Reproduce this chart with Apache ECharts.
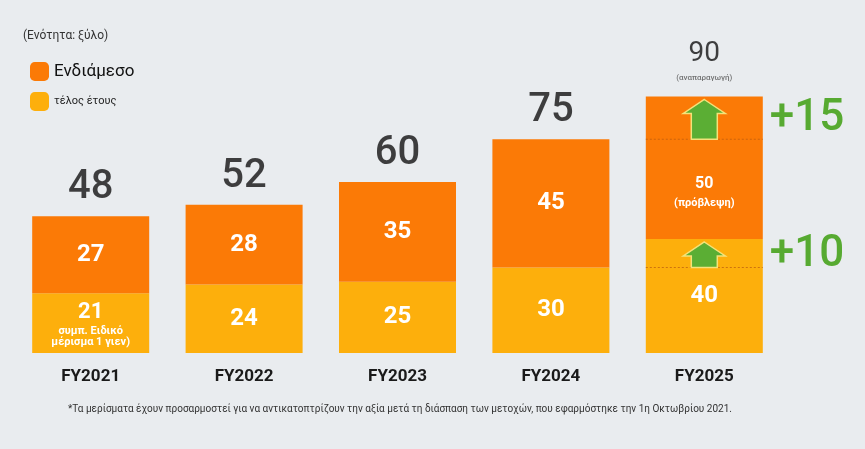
<!DOCTYPE html>
<html>
<head>
<meta charset="utf-8">
<script src="https://cdn.jsdelivr.net/npm/echarts@6/dist/echarts.min.js"></script>
<style>
  html, body { margin: 0; padding: 0; background: #E9ECEF; }
  #chart { width: 865px; height: 449px; }
</style>
</head>
<body>
<div id="chart"></div>
<script>
// 数据
const categories = ['FY2021', 'FY2022', 'FY2023', 'FY2024', 'FY2025'];
const yearEnd = [21, 24, 25, 30, 40];      // τέλος έτους
const interim = [27, 28, 35, 45, 50];      // Ενδιάμεσο
const totals = [48, 52, 60, 75, 90];
// αύξηση FY2025
const growthFrom = [30, 75];
const growthTo = [40, 90];
const growthLabels = ['+10', '+15'];

const ORANGE = '#FB7A06';
const YELLOW = '#FDAF0C';
const GREEN = '#57AA31';
const BAR_W = 117;

const chart = echarts.init(document.getElementById('chart'));

const option = {
    backgroundColor: '#E9ECEF',
    textStyle: { fontFamily: 'Roboto' },
    title: [
        {
            text: '(Ενότητα: ξύλο)',
            left: 18, top: 25,
            textStyle: { fontSize: 12, fontWeight: 'normal', color: '#333' }
        },
        {
            text: '*Τα μερίσματα έχουν προσαρμοστεί για να αντικατοπτρίζουν την αξία μετά τη διάσπαση των μετοχών, που εφαρμόστηκε την 1η Οκτωβρίου 2021.',
            left: 63, top: 399,
            textStyle: { fontSize: 10, fontWeight: 'normal', color: '#333' }
        }
    ],
    legend: [
        {
            data: ['Ενδιάμεσο'],
            left: 25, top: 57,
            itemWidth: 19, itemHeight: 19, itemGap: 4,
            textStyle: { fontSize: 17, color: '#111' }
        },
        {
            data: ['τέλος έτους'],
            left: 25, top: 87,
            itemWidth: 19, itemHeight: 19,
            textStyle: { fontSize: 11, color: '#222' }
        }
    ],
    grid: { left: 14, right: 84, top: 68, bottom: 96 },
    xAxis: {
        type: 'category',
        data: categories,
        axisLine: { show: false },
        axisTick: { show: false },
        axisLabel: { margin: 15, fontSize: 17, fontWeight: 'bold', color: '#1a1a1a' }
    },
    yAxis: {
        type: 'value', min: 0, max: 100, show: false,
        splitLine: { show: false }
    },
    series: [
        {
            name: 'τέλος έτους',
            type: 'bar',
            stack: 'div',
            barWidth: BAR_W,
            itemStyle: { color: YELLOW },
            label: {
                show: true, position: 'inside',
                color: '#fff', fontSize: 24, fontWeight: 'bold'
            },
            data: yearEnd.map((v, i) => i === 0 ? {
                value: v,
                label: {
                    formatter: '{a|{c}}\n{b|συμπ. Ειδικό}\n{b|μέρισμα 1 γιεν)}',
                    rich: {
                        a: { fontSize: 22, fontWeight: 'bold', color: '#fff', lineHeight: 28 },
                        b: { fontSize: 11, fontWeight: 'bold', color: '#fff', lineHeight: 11 }
                    }
                }
            } : v)
        },
        {
            name: 'Ενδιάμεσο',
            type: 'bar',
            stack: 'div',
            barWidth: BAR_W,
            itemStyle: { color: ORANGE },
            label: {
                show: true, position: 'inside',
                color: '#fff', fontSize: 24, fontWeight: 'bold'
            },
            data: interim.map((v, i) => i === 4 ? {
                value: v,
                label: {
                    offset: [0, 24],
                    formatter: '{a|{c}}\n{b|(πρόβλεψη)}',
                    rich: {
                        a: { fontSize: 16, fontWeight: 'bold', color: '#fff', lineHeight: 22 },
                        b: { fontSize: 11, fontWeight: 'bold', color: '#fff', lineHeight: 16 }
                    }
                }
            } : v)
        },
        {
            name: 'total',
            type: 'scatter',
            symbolSize: 0,
            silent: true,
            label: {
                show: true, position: 'top', distance: 8,
                fontSize: 40, fontWeight: 500, color: '#111'
            },
            data: totals.map((v, i) => i === 4 ? {
                value: v,
                label: {
                    distance: 12,
                    formatter: '{a|{c}}\n{b|(αναπαραγωγή)}',
                    rich: {
                        a: { fontSize: 28, fontWeight: 'normal', color: '#111', lineHeight: 34 },
                        b: { fontSize: 8, color: '#555', lineHeight: 14 }
                    }
                }
            } : v)
        },
        {
            name: 'growth',
            type: 'custom',
            silent: true,
            z: 10,
            data: growthFrom.map((v, i) => [4, v, growthTo[i]]),
            renderItem: (params, api) => {
                const lo = api.coord([api.value(0), api.value(1)]);
                const hi = api.coord([api.value(0), api.value(2)]);
                const cx = lo[0];
                const half = BAR_W / 2;
                const top = hi[1] + 3;
                const bot = lo[1];
                const headH = 14;
                return {
                    type: 'group',
                    children: [
                        {
                            type: 'line',
                            z2: 1,
                            shape: { x1: cx - half, y1: bot, x2: cx + half, y2: bot },
                            style: { stroke: '#B85A10', lineWidth: 1, lineDash: [2, 2], opacity: 0.7 }
                        },
                        {
                            type: 'polygon',
                            z2: 2,
                            shape: {
                                points: [
                                    [cx, top], [cx + 21, top + headH], [cx + 13, top + headH],
                                    [cx + 13, bot], [cx - 13, bot], [cx - 13, top + headH],
                                    [cx - 21, top + headH]
                                ]
                            },
                            style: { fill: '#5BAE34', stroke: '#F4E27A', lineWidth: 1.5 }
                        },
                        {
                            type: 'text',
                            style: {
                                text: growthLabels[params.dataIndex],
                                x: cx + half + 7, y: (top + bot) / 2,
                                verticalAlign: 'middle',
                                fill: GREEN, fontSize: 44, fontWeight: 500, fontFamily: 'Roboto'
                            }
                        }
                    ]
                };
            }
        }
    ]
};

chart.setOption(option);
</script>
</body>
</html>
